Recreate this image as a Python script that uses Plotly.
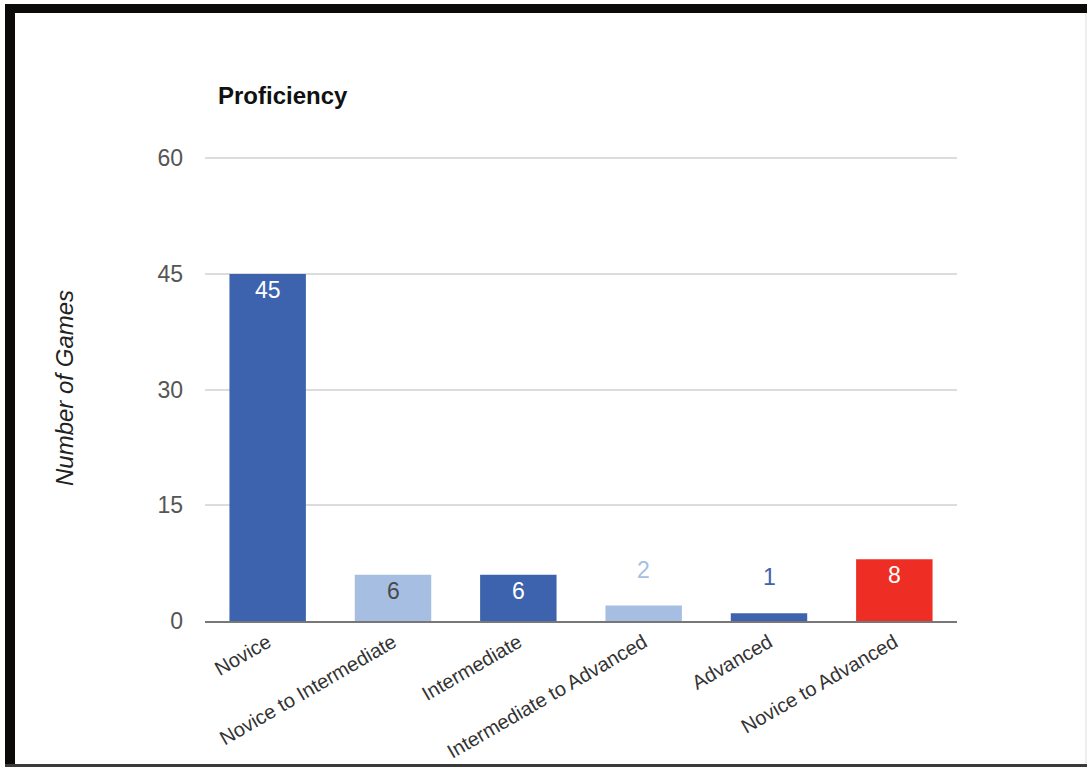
import plotly.graph_objects as go

categories = ["Novice", "Novice to Intermediate", "Intermediate",
              "Intermediate to Advanced", "Advanced", "Novice to Advanced"]
games = [45, 6, 6, 2, 1, 8]
bar_colors = ["#3d63ae", "#a6bee2", "#3d63ae", "#a6bee2", "#3d63ae", "#ee2e24"]
label_colors = ["#ffffff", "#4a4a4a", "#ffffff", "#a6bee2", "#3d63ae", "#ffffff"]
label_inside = [True, True, True, False, False, True]
y_ticks = [0, 15, 30, 45, 60]

W, H = 1087, 767
Y_MAX = 62
L, R, B = 205, 957, 621
T = round(B - (B - 158) * Y_MAX / 60)
FONT = "Liberation Sans, Arial, sans-serif"


def px(x):
    return (x - L) / (R - L)


def py(y):
    return (B - y) / (B - T)


fig = go.Figure()
fig.add_trace(go.Bar(
    x=categories, y=games, marker=dict(color=bar_colors, line=dict(width=0)),
    hoverinfo="x+y", showlegend=False,
))

annotations = []
for c, v, col, inside in zip(categories, games, label_colors, label_inside):
    annotations.append(dict(
        x=c, y=v, xref="x", yref="y", text=str(v), showarrow=False,
        yanchor="middle", yshift=-16 if inside else 36,
        font=dict(family=FONT, size=23, color=col),
    ))

annotations.append(dict(
    x=px(216), y=py(96), xref="paper", yref="paper", text="<b>Proficiency</b>",
    showarrow=False, xanchor="left", yanchor="middle",
    font=dict(family=FONT, size=24, color="#111111"),
))
annotations.append(dict(
    x=px(64), y=py(388), xref="paper", yref="paper", text="<i>Number of Games</i>",
    showarrow=False, xanchor="center", yanchor="middle", textangle=-90,
    font=dict(family=FONT, size=24, color="#222222"),
))

shapes = [
    dict(type="rect", xref="paper", yref="paper", x0=px(5), x1=px(15), y0=py(4), y1=py(767),
         fillcolor="#0b0a08", line=dict(width=0), layer="above"),
    dict(type="rect", xref="paper", yref="paper", x0=px(5), x1=px(1087), y0=py(4), y1=py(13),
         fillcolor="#0b0a08", line=dict(width=0), layer="above"),
    dict(type="line", xref="paper", yref="paper", x0=px(1086), x1=px(1086), y0=py(13), y1=py(764),
         line=dict(color="#dddddd", width=1), layer="above"),
    dict(type="rect", xref="paper", yref="paper", x0=px(5), x1=px(1087), y0=py(764), y1=py(767),
         fillcolor="#3a3a3a", line=dict(width=0), layer="above"),
]

fig.update_layout(
    width=W, height=H,
    margin=dict(l=L, r=W - R, t=T, b=H - B, pad=0, autoexpand=False),
    paper_bgcolor="white", plot_bgcolor="white",
    bargap=0.39,
    annotations=annotations, shapes=shapes,
    font=dict(family=FONT),
)
fig.update_xaxes(
    tickangle=-30, tickfont=dict(family=FONT, size=20, color="#333333"),
    showline=True, linecolor="#777777", linewidth=2, showgrid=False, ticks="",
    automargin=False,
)
fig.update_yaxes(
    range=[0, Y_MAX], tickvals=y_ticks, ticktext=[str(t) for t in y_ticks],
    tickfont=dict(family=FONT, size=23, color="#555555"),
    showgrid=True, gridcolor="#dcdcdc", gridwidth=2, zeroline=False,
    ticks="", ticklabelstandoff=21, automargin=False,
)

fig.write_html("out.html")
